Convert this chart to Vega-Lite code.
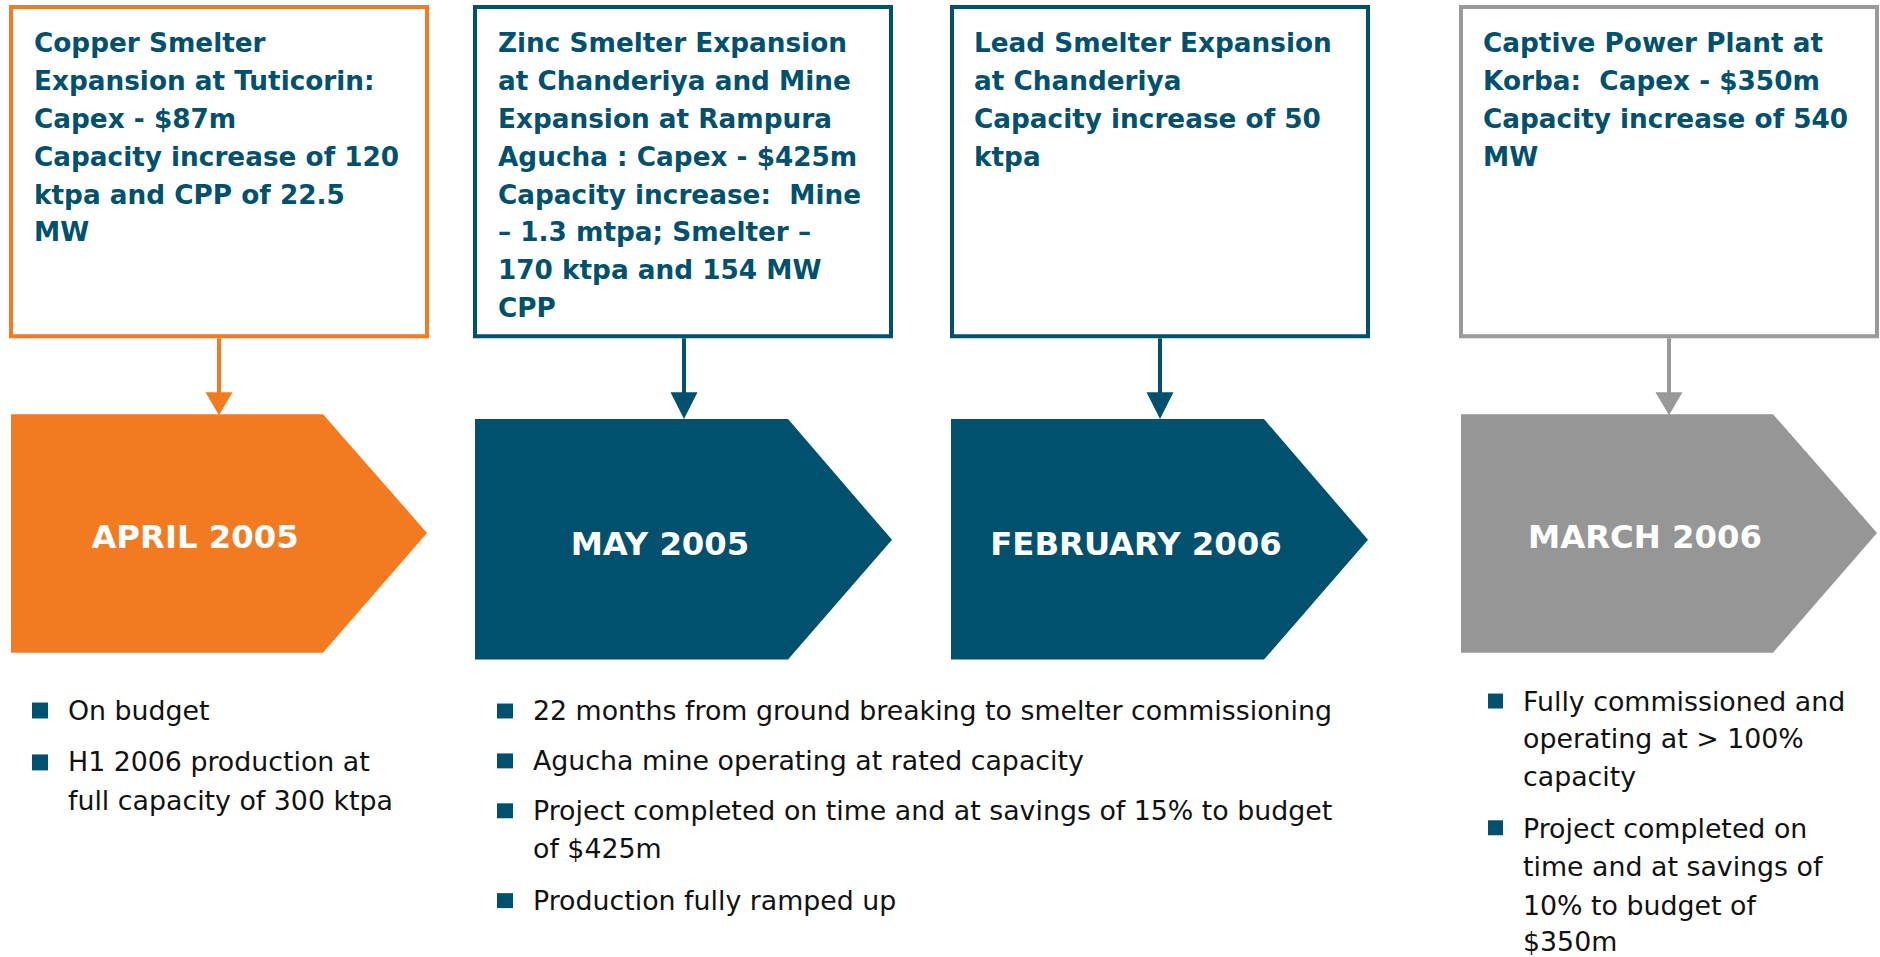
{
  "$schema": "https://vega.github.io/schema/vega-lite/v6.json",
  "width": 1880,
  "height": 957,
  "autosize": {"type": "fit", "contains": "padding"},
  "padding": 0,
  "background": "white",
  "config": {"view": {"stroke": null}, "axis": {"disable": true}},
  "datasets": {
    "boxes": [
      {"x1": 11, "x2": 427, "y1": 7, "y2": 337, "c": "#F27B21"},
      {"x1": 475, "x2": 891, "y1": 7, "y2": 337, "c": "#00506E"},
      {"x1": 952, "x2": 1368, "y1": 7, "y2": 337, "c": "#00506E"},
      {"x1": 1461, "x2": 1877, "y1": 7, "y2": 337, "c": "#999999"}
    ],
    "stems": [
      {"x": 219, "y1": 339, "y2": 395, "c": "#F27B21"},
      {"x": 684, "y1": 339, "y2": 395, "c": "#00506E"},
      {"x": 1160, "y1": 339, "y2": 395, "c": "#00506E"},
      {"x": 1669, "y1": 339, "y2": 395, "c": "#999999"}
    ],
    "polys": [
      {"id": "c1", "x": 11, "top": 415, "bot": 654, "c": "#F27B21"},
      {"id": "c1", "x": 323, "top": 415, "bot": 654, "c": "#F27B21"},
      {"id": "c1", "x": 427, "top": 534, "bot": 534, "c": "#F27B21"},
      {"id": "c2", "x": 475, "top": 420, "bot": 661, "c": "#00506E"},
      {"id": "c2", "x": 788, "top": 420, "bot": 661, "c": "#00506E"},
      {"id": "c2", "x": 892, "top": 541, "bot": 541, "c": "#00506E"},
      {"id": "c3", "x": 951, "top": 420, "bot": 661, "c": "#00506E"},
      {"id": "c3", "x": 1264, "top": 420, "bot": 661, "c": "#00506E"},
      {"id": "c3", "x": 1368, "top": 541, "bot": 541, "c": "#00506E"},
      {"id": "c4", "x": 1461, "top": 415, "bot": 654, "c": "#969696"},
      {"id": "c4", "x": 1773, "top": 415, "bot": 654, "c": "#969696"},
      {"id": "c4", "x": 1877, "top": 534, "bot": 534, "c": "#969696"},
      {"id": "a1", "x": 205.5, "top": 393, "bot": 393, "c": "#F27B21"},
      {"id": "a1", "x": 219, "top": 393, "bot": 416, "c": "#F27B21"},
      {"id": "a1", "x": 232.5, "top": 393, "bot": 393, "c": "#F27B21"},
      {"id": "a2", "x": 670.5, "top": 393, "bot": 393, "c": "#00506E"},
      {"id": "a2", "x": 684, "top": 393, "bot": 420, "c": "#00506E"},
      {"id": "a2", "x": 697.5, "top": 393, "bot": 393, "c": "#00506E"},
      {"id": "a3", "x": 1146.5, "top": 393, "bot": 393, "c": "#00506E"},
      {"id": "a3", "x": 1160, "top": 393, "bot": 420, "c": "#00506E"},
      {"id": "a3", "x": 1173.5, "top": 393, "bot": 393, "c": "#00506E"},
      {"id": "a4", "x": 1655.5, "top": 393, "bot": 393, "c": "#999999"},
      {"id": "a4", "x": 1669, "top": 393, "bot": 416, "c": "#999999"},
      {"id": "a4", "x": 1682.5, "top": 393, "bot": 393, "c": "#999999"}
    ],
    "titles": [
      {"x": 34, "y": 52, "t": "Copper Smelter"},
      {"x": 34, "y": 90, "t": "Expansion at Tuticorin:"},
      {"x": 34, "y": 128, "t": "Capex - $87m"},
      {"x": 34, "y": 166, "t": "Capacity increase of 120"},
      {"x": 34, "y": 204, "t": "ktpa and CPP of 22.5"},
      {"x": 34, "y": 242, "t": "MW"},
      {"x": 498, "y": 52, "t": "Zinc Smelter Expansion"},
      {"x": 498, "y": 90, "t": "at Chanderiya and Mine"},
      {"x": 498, "y": 128, "t": "Expansion at Rampura"},
      {"x": 498, "y": 166, "t": "Agucha : Capex - $425m"},
      {"x": 498, "y": 204, "t": "Capacity increase:\u00a0 Mine"},
      {"x": 498, "y": 242, "t": "– 1.3 mtpa; Smelter –"},
      {"x": 498, "y": 280, "t": "170 ktpa and 154 MW"},
      {"x": 498, "y": 318, "t": "CPP"},
      {"x": 974, "y": 52, "t": "Lead Smelter Expansion"},
      {"x": 974, "y": 90, "t": "at Chanderiya"},
      {"x": 974, "y": 128, "t": "Capacity increase of 50"},
      {"x": 974, "y": 166, "t": "ktpa"},
      {"x": 1483, "y": 52, "t": "Captive Power Plant at"},
      {"x": 1483, "y": 90, "t": "Korba:\u00a0 Capex - $350m"},
      {"x": 1483, "y": 128, "t": "Capacity increase of 540"},
      {"x": 1483, "y": 166, "t": "MW"}
    ],
    "dates": [
      {"x": 195, "y": 549, "t": "APRIL 2005"},
      {"x": 660, "y": 556, "t": "MAY 2005"},
      {"x": 1136, "y": 556, "t": "FEBRUARY 2006"},
      {"x": 1645, "y": 549, "t": "MARCH 2006"}
    ],
    "squares": [
      {"x1": 32, "x2": 48, "y1": 704, "y2": 720},
      {"x1": 32, "x2": 48, "y1": 756, "y2": 772},
      {"x1": 497, "x2": 513, "y1": 705, "y2": 720},
      {"x1": 497, "x2": 513, "y1": 755, "y2": 770},
      {"x1": 497, "x2": 513, "y1": 805, "y2": 820},
      {"x1": 497, "x2": 513, "y1": 895, "y2": 910},
      {"x1": 1488, "x2": 1503, "y1": 695, "y2": 710},
      {"x1": 1488, "x2": 1503, "y1": 822, "y2": 837}
    ],
    "bullets": [
      {"x": 68, "y": 722, "t": "On budget"},
      {"x": 68, "y": 773, "t": "H1 2006 production at"},
      {"x": 68, "y": 812, "t": "full capacity of 300 ktpa"},
      {"x": 533, "y": 722, "t": "22 months from ground breaking to smelter commissioning"},
      {"x": 533, "y": 772, "t": "Agucha mine operating at rated capacity"},
      {"x": 533, "y": 822, "t": "Project completed on time and at savings of 15% to budget"},
      {"x": 533, "y": 860, "t": "of $425m"},
      {"x": 533, "y": 912, "t": "Production fully ramped up"},
      {"x": 1523, "y": 712, "t": "Fully commissioned and"},
      {"x": 1523, "y": 750, "t": "operating at > 100%"},
      {"x": 1523, "y": 788, "t": "capacity"},
      {"x": 1523, "y": 840, "t": "Project completed on"},
      {"x": 1523, "y": 878, "t": "time and at savings of"},
      {"x": 1523, "y": 917, "t": "10% to budget of"},
      {"x": 1523, "y": 953, "t": "$350m"}
    ]
  },
  "layer": [
    {
      "data": {"name": "boxes"},
      "mark": {"type": "rect", "fill": "white", "strokeWidth": 4},
      "encoding": {
        "x": {"field": "x1", "type": "quantitative", "scale": {"domain": [0, 1880], "nice": false, "zero": false}, "axis": null},
        "x2": {"field": "x2"},
        "y": {"field": "y1", "type": "quantitative", "scale": {"domain": [0, 957], "nice": false, "zero": false, "reverse": true}, "axis": null},
        "y2": {"field": "y2"},
        "stroke": {"field": "c", "type": "nominal", "scale": null, "legend": null}
      }
    },
    {
      "data": {"name": "stems"},
      "mark": {"type": "rule", "strokeWidth": 4},
      "encoding": {
        "x": {"field": "x", "type": "quantitative"},
        "y": {"field": "y1", "type": "quantitative"},
        "y2": {"field": "y2"},
        "color": {"field": "c", "type": "nominal", "scale": null, "legend": null}
      }
    },
    {
      "data": {"name": "polys"},
      "mark": {"type": "area", "interpolate": "linear", "opacity": 1},
      "encoding": {
        "x": {"field": "x", "type": "quantitative"},
        "y": {"field": "top", "type": "quantitative", "stack": null},
        "y2": {"field": "bot"},
        "detail": {"field": "id", "type": "nominal"},
        "color": {"field": "c", "type": "nominal", "scale": null, "legend": null}
      }
    },
    {
      "data": {"name": "titles"},
      "mark": {"type": "text", "align": "left", "baseline": "alphabetic", "font": "DejaVu Sans", "fontWeight": "bold", "fontSize": 26.3, "color": "#00506E"},
      "encoding": {
        "x": {"field": "x", "type": "quantitative"},
        "y": {"field": "y", "type": "quantitative"},
        "text": {"field": "t", "type": "nominal"}
      }
    },
    {
      "data": {"name": "dates"},
      "mark": {"type": "text", "align": "center", "baseline": "alphabetic", "font": "DejaVu Sans", "fontWeight": "bold", "fontSize": 32.3, "color": "white"},
      "encoding": {
        "x": {"field": "x", "type": "quantitative"},
        "y": {"field": "y", "type": "quantitative"},
        "text": {"field": "t", "type": "nominal"}
      }
    },
    {
      "data": {"name": "squares"},
      "mark": {"type": "rect", "color": "#00506E"},
      "encoding": {
        "x": {"field": "x1", "type": "quantitative"},
        "x2": {"field": "x2"},
        "y": {"field": "y1", "type": "quantitative"},
        "y2": {"field": "y2"}
      }
    },
    {
      "data": {"name": "bullets"},
      "mark": {"type": "text", "align": "left", "baseline": "alphabetic", "font": "DejaVu Sans", "fontSize": 26.8, "color": "#111111"},
      "encoding": {
        "x": {"field": "x", "type": "quantitative"},
        "y": {"field": "y", "type": "quantitative"},
        "text": {"field": "t", "type": "nominal"}
      }
    }
  ]
}
